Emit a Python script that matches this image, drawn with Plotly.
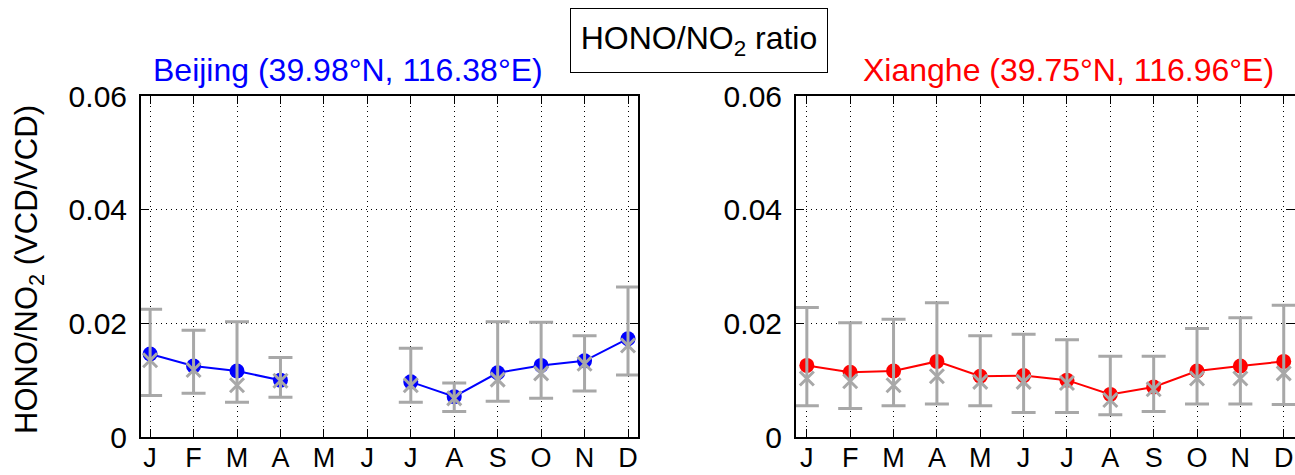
import plotly.graph_objects as go

months = ["J", "F", "M", "A", "M", "J", "J", "A", "S", "O", "N", "D"]
month_num = [1, 2, 3, 4, 5, 6, 7, 8, 9, 10, 11, 12]

bj_mean = [0.0146, 0.0125, 0.0116, 0.0100, None, None, 0.0097, 0.0071, 0.0113, 0.0126, 0.0134, 0.0173]
bj_median = [0.0135, 0.0118, 0.0091, 0.0099, None, None, 0.0091, 0.0068, 0.0101, 0.0112, 0.0129, 0.0161]
bj_upper = [0.0225, 0.0188, 0.0203, 0.0140, None, None, 0.0156, 0.0095, 0.0203, 0.0202, 0.0178, 0.0264]
bj_lower = [0.0073, 0.0077, 0.0061, 0.0070, None, None, 0.0061, 0.0045, 0.0063, 0.0068, 0.0081, 0.0109]

xh_mean = [0.0126, 0.0114, 0.0116, 0.0133, 0.0107, 0.0108, 0.0100, 0.0075, 0.0088, 0.0116, 0.0125, 0.0133]
xh_median = [0.0103, 0.0098, 0.0091, 0.0107, 0.0097, 0.0097, 0.0095, 0.0065, 0.0084, 0.0103, 0.0103, 0.0112]
xh_upper = [0.0228, 0.0201, 0.0207, 0.0236, 0.0178, 0.0181, 0.0171, 0.0142, 0.0142, 0.0191, 0.0210, 0.0232]
xh_lower = [0.0055, 0.0050, 0.0055, 0.0058, 0.0055, 0.0043, 0.0043, 0.0039, 0.0045, 0.0058, 0.0058, 0.0057]

ytick_vals = [0, 0.02, 0.04, 0.06]
ytick_text = ["0", "0.02", "0.04", "0.06"]

FONT = "Liberation Sans, Arial, sans-serif"
GRAY = "#a8a8a8"


def err(med, up, lo):
    plus = [None if m is None else u - m for m, u in zip(med, up)]
    minus = [None if m is None else m - l for m, l in zip(med, lo)]
    return plus, minus


fig = go.Figure()

for mean, med, up, lo, color, xa, ya in [
    (bj_mean, bj_median, bj_upper, bj_lower, "#0000ff", "x", "y"),
    (xh_mean, xh_median, xh_upper, xh_lower, "#ff0000", "x2", "y2"),
]:
    fig.add_trace(go.Scatter(
        x=month_num, y=mean, mode="lines+markers", xaxis=xa, yaxis=ya,
        line=dict(color=color, width=2), connectgaps=False,
        marker=dict(symbol="circle", size=15, color=color),
        showlegend=False, hoverinfo="skip"))
    plus, minus = err(med, up, lo)
    fig.add_trace(go.Scatter(
        x=month_num, y=med, mode="markers", xaxis=xa, yaxis=ya,
        marker=dict(symbol="x-thin-open", size=14, color=GRAY,
                    line=dict(color=GRAY, width=3)),
        error_y=dict(type="data", symmetric=False, array=plus, arrayminus=minus,
                     color=GRAY, thickness=3, width=12),
        showlegend=False, hoverinfo="skip"))

xcommon = dict(
    tickmode="array", tickvals=month_num, ticktext=months,
    ticks="inside", ticklen=8, tickwidth=1, tickcolor="black",
    showline=True, linecolor="black", linewidth=2, mirror="ticks",
    showgrid=True, gridcolor="black", gridwidth=1, griddash="1px,4px",
    zeroline=False, tickfont=dict(family=FONT, size=27, color="black"),
    ticklabelstandoff=-4, automargin=False,
)
ycommon = dict(
    range=[0, 0.06], tickmode="array", tickvals=ytick_vals, ticktext=ytick_text,
    ticks="inside", ticklen=8, tickwidth=1, tickcolor="black",
    showline=True, linecolor="black", linewidth=2, mirror="ticks",
    showgrid=True, gridcolor="black", gridwidth=1, griddash="1px,4px",
    zeroline=False, tickfont=dict(family=FONT, size=30, color="black"),
    ticklabelstandoff=6, automargin=False,
)

y_dom = [1 - 437 / 475, 1 - 96 / 475]

fig.update_layout(
    width=1295, height=475,
    margin=dict(l=0, r=0, t=0, b=0, autoexpand=False),
    paper_bgcolor="white", plot_bgcolor="white",
    xaxis=dict(domain=[141 / 1295, 638 / 1295], range=[0.79, 12.23], anchor="y", **xcommon),
    yaxis=dict(domain=y_dom, anchor="x", **ycommon),
    xaxis2=dict(domain=[796 / 1295, 1.0], range=[0.75, 12.26], anchor="y2", **xcommon),
    yaxis2=dict(domain=y_dom, anchor="x2", **ycommon),
    annotations=[
        dict(text="HONO/NO<sub>2</sub> ratio", x=699 / 1295, y=1 - 40.5 / 475,
             xref="paper", yref="paper", showarrow=False,
             xanchor="center", yanchor="middle",
             font=dict(family=FONT, size=32, color="black"),
             bordercolor="black", borderwidth=1, borderpad=1,
             width=254, height=61, bgcolor="white"),
        dict(text="Beijing (39.98°N, 116.38°E)", x=347.5 / 1295, y=1 - 70 / 475,
             xref="paper", yref="paper", showarrow=False,
             xanchor="center", yanchor="middle",
             font=dict(family=FONT, size=32, color="#0000ff")),
        dict(text="Xianghe (39.75°N, 116.96°E)", x=1068 / 1295, y=1 - 70 / 475,
             xref="paper", yref="paper", showarrow=False,
             xanchor="center", yanchor="middle",
             font=dict(family=FONT, size=32, color="#ff0000")),
        dict(text="HONO/NO<sub>2</sub> (VCD/VCD)", x=29 / 1295, y=1 - 270 / 475,
             xref="paper", yref="paper", showarrow=False, textangle=-90,
             xanchor="center", yanchor="middle",
             font=dict(family=FONT, size=31, color="black")),
    ],
)

fig.write_html("out.html")
